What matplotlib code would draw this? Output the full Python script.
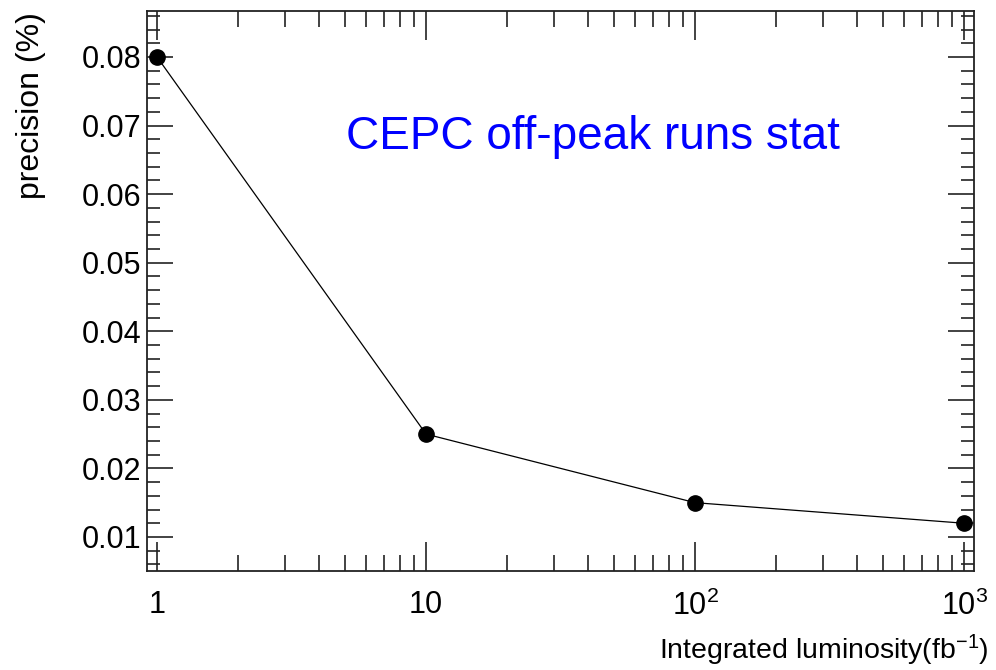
import numpy as np
import matplotlib
matplotlib.use("Agg")
import matplotlib.pyplot as plt
from matplotlib.ticker import FixedLocator, MultipleLocator, LogLocator, NullFormatter

plt.rcParams['font.family'] = ['Liberation Sans', 'DejaVu Sans']
plt.rcParams['mathtext.fontset'] = 'custom'
plt.rcParams['mathtext.rm'] = 'Liberation Sans'
plt.rcParams['mathtext.it'] = 'Liberation Sans'
plt.rcParams['mathtext.default'] = 'regular'

# data
lumi = [1, 10, 100, 1000]
precision = [0.080, 0.025, 0.015, 0.012]

x_ticks = [1, 10, 100, 1000]
x_ticklabels = ["1", "10", r"$10^{2}$", r"$10^{3}$"]
y_ticks = [0.01, 0.02, 0.03, 0.04, 0.05, 0.06, 0.07, 0.08]
y_ticklabels = ["0.01", "0.02", "0.03", "0.04", "0.05", "0.06", "0.07", "0.08"]

fig = plt.figure(figsize=(9.96, 6.7), dpi=100)
ax = fig.add_axes([0.1476, 0.1478, 0.978 - 0.1476, 0.9836 - 0.1478])

ax.plot(lumi, precision, color="black", lw=0.9, marker="o", ms=11,
        mfc="black", mec="black", zorder=3, clip_on=False)

ax.set_xscale("log")
ax.set_xlim(0.918, 1089)
ax.set_ylim(0.00504, 0.0867)

ax.xaxis.set_major_locator(FixedLocator(x_ticks))
ax.set_xticklabels(x_ticklabels)
ax.xaxis.set_minor_locator(LogLocator(base=10, subs=np.arange(2, 10)))
ax.xaxis.set_minor_formatter(NullFormatter())

ax.yaxis.set_major_locator(FixedLocator(y_ticks))
ax.set_yticklabels(y_ticklabels)
ax.yaxis.set_minor_locator(MultipleLocator(0.002))

ax.tick_params(which="both", direction="in", top=True, right=True,
               width=1.2, labelsize=22, color="#222222")
ax.tick_params(axis="x", which="major", length=21, pad=14)
ax.tick_params(axis="x", which="minor", length=11.5)
ax.tick_params(axis="y", which="major", length=19, pad=4)
ax.tick_params(axis="y", which="minor", length=9.5)

for s in ax.spines.values():
    s.set_linewidth(1.3)
    s.set_color("#222222")

fig.text(0.595, 0.7776, "CEPC off-peak runs stat", color="#0000ff",
         fontsize=33, ha="center", va="baseline")

fig.text(0.993, 0.016, r"Integrated luminosity(fb$^{-1}$)", ha="right",
         va="baseline", fontsize=20.5)
fig.text(0.031, 0.982, "precision (%)", rotation=90, ha="center", va="top",
         fontsize=23)

fig.savefig("out.png", dpi=100)
